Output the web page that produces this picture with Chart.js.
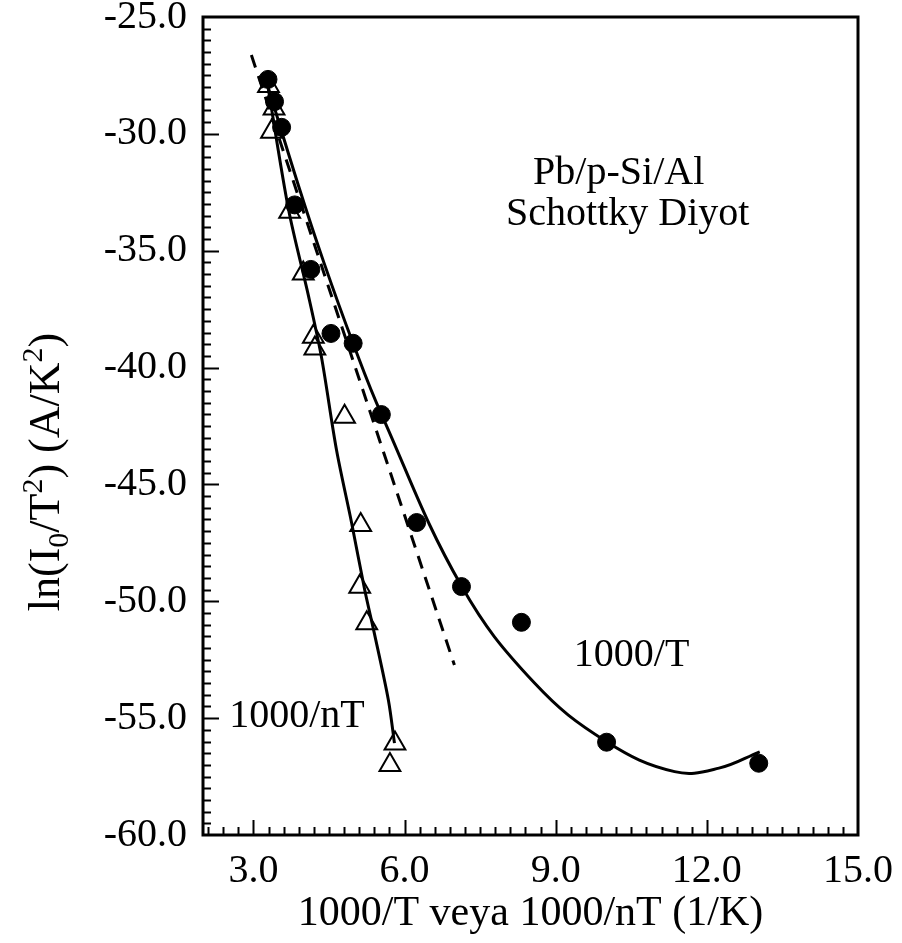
<!DOCTYPE html>
<html>
<head>
<meta charset="utf-8">
<script src="https://cdn.jsdelivr.net/npm/chart.js@4.4.0/dist/chart.umd.min.js"></script>
<style>
  html, body { margin: 0; padding: 0; background: #fff; }
  #wrap { width: 902px; height: 943px; position: relative; }
</style>
</head>
<body>
<div id="wrap"><canvas id="chart"></canvas></div>
<script>
// 1000/T data (filled circles)
const invT = [3.29, 3.42, 3.56, 3.82, 4.14, 4.54, 4.98, 5.54, 6.24, 7.13, 8.32, 10.01, 13.03];
const lnT = [-27.67, -28.62, -29.72, -33.04, -35.80, -38.54, -38.96, -42.01, -46.63, -49.37, -50.90, -56.03, -56.93];

// 1000/nT data (open triangles)
const invNT = [3.30, 3.41, 3.36, 3.72, 3.99, 4.19, 4.22, 4.81, 5.13, 5.11, 5.25, 5.81, 5.71];
const lnNT = [-27.95, -28.91, -29.91, -33.33, -35.97, -38.68, -39.18, -42.10, -46.74, -49.38, -50.94, -56.08, -57.01];

// fit through the 1000/T points
const fitTx = [3.25, 3.90, 4.40, 4.98, 5.54, 7.13, 8.58, 10.01, 11.36, 12.24, 13.05];
const fitTy = [-27.70, -32.25, -35.51, -38.97, -41.99, -49.35, -53.50, -56.01, -57.29, -57.14, -56.44];

// fit through the 1000/nT points
const fitNx = [3.28, 3.70, 4.09, 4.35, 4.65, 4.95, 5.21, 5.40, 5.68, 5.80];
const fitNy = [-27.87, -33.26, -36.90, -39.54, -43.53, -46.65, -49.52, -51.36, -54.23, -56.07];

// straight dashed line
const dashX = [2.96, 6.99];
const dashY = [-26.63, -52.73];

const xTicks = [3, 6, 9, 12, 15];
const yTicks = [-60, -55, -50, -45, -40, -35, -30, -25];

const FONT = 'Liberation Serif';
const pts = (xs, ys) => xs.map((x, i) => ({ x: x, y: ys[i] }));

// box frame + inward ticks on the left and bottom axes
const frameTicks = {
  id: 'frameTicks',
  afterDatasetsDraw(chart) {
    const { ctx, chartArea: a, scales: { x, y } } = chart;
    ctx.save();
    ctx.strokeStyle = '#000';
    ctx.lineWidth = 2;
    ctx.beginPath();
    for (let v = 2.1; v < 15; v += 0.3) {
      const px = Math.round(x.getPixelForValue(v)) + 0.5;
      const major = xTicks.some(t => Math.abs(t - v) < 1e-6);
      ctx.moveTo(px, a.bottom);
      ctx.lineTo(px, a.bottom - (major ? 15 : 8));
    }
    for (let v = -59.5; v < -25; v += 0.5) {
      const py = Math.round(y.getPixelForValue(v)) + 0.5;
      const major = yTicks.some(t => Math.abs(t - v) < 1e-6);
      ctx.moveTo(a.left, py);
      ctx.lineTo(a.left + (major ? 16 : 8), py);
    }
    ctx.stroke();
    ctx.lineWidth = 3;
    ctx.strokeRect(a.left, a.top, a.right - a.left, a.bottom - a.top);
    ctx.restore();
  }
};

// in-plot labels and the rotated y title with sub/superscripts
const labels = {
  id: 'labels',
  afterDraw(chart) {
    const { ctx, scales: { x, y } } = chart;
    ctx.save();
    ctx.fillStyle = '#000';
    ctx.textBaseline = 'middle';
    ctx.font = `40px "${FONT}"`;
    ctx.textAlign = 'center';
    ctx.fillText('Pb/p-Si/Al', x.getPixelForValue(10.25), y.getPixelForValue(-31.68));
    ctx.fillText('Schottky Diyot', x.getPixelForValue(10.43), y.getPixelForValue(-33.47));
    ctx.textAlign = 'left';
    ctx.fillText('1000/T', x.getPixelForValue(9.36), y.getPixelForValue(-52.30));
    ctx.fillText('1000/nT', x.getPixelForValue(2.52), y.getPixelForValue(-54.91));

    const parts = [
      ['ln(I', 0], ['0', 1], ['/T', 0], ['2', -1], [') (A/K', 0], ['2', -1], [')', 0]
    ];
    const big = `44px "${FONT}"`, small = `30px "${FONT}"`;
    let total = 0;
    parts.forEach(p => { ctx.font = p[1] ? small : big; total += ctx.measureText(p[0]).width; });
    ctx.translate(45, 472);
    ctx.rotate(-Math.PI / 2);
    ctx.textBaseline = 'alphabetic';
    let cx = -total / 2;
    parts.forEach(p => {
      ctx.font = p[1] ? small : big;
      ctx.fillText(p[0], cx, 14 + (p[1] === 1 ? 9 : p[1] === -1 ? -17 : 0));
      cx += ctx.measureText(p[0]).width;
    });
    ctx.restore();
  }
};

new Chart(document.getElementById('chart'), {
  type: 'scatter',
  data: {
    datasets: [
      {
        data: pts(dashX, dashY), showLine: true, borderColor: '#000', borderWidth: 3,
        borderDash: [13, 9], pointRadius: 0
      },
      {
        data: pts(fitTx, fitTy), showLine: true, borderColor: '#000', borderWidth: 3,
        tension: 0.4, pointRadius: 0
      },
      {
        data: pts(fitNx, fitNy), showLine: true, borderColor: '#000', borderWidth: 3,
        tension: 0.3, pointRadius: 0
      },
      {
        data: pts(invT, lnT), pointStyle: 'circle', pointRadius: 9,
        backgroundColor: '#000', borderColor: '#000', borderWidth: 1
      },
      {
        data: pts(invNT, lnNT), pointStyle: 'triangle', pointRadius: 12,
        backgroundColor: 'rgba(0,0,0,0)', borderColor: '#000', borderWidth: 2
      }
    ]
  },
  options: {
    responsive: true,
    maintainAspectRatio: false,
    animation: false,
    layout: { padding: { top: 17, right: 44, bottom: 0, left: 0 } },
    plugins: { legend: { display: false }, tooltip: { enabled: false } },
    scales: {
      x: {
        type: 'linear', min: 2, max: 15,
        grid: { display: false, drawTicks: false },
        border: { display: false },
        afterBuildTicks: s => { s.ticks = xTicks.map(v => ({ value: v })); },
        afterFit: s => { s.height = 108; s.paddingLeft = 0; s.paddingRight = 0; },
        ticks: {
          color: '#000', padding: 12, maxRotation: 0, autoSkip: false,
          font: { family: FONT, size: 40 },
          callback: v => v.toFixed(1)
        },
        title: {
          display: true, text: '1000/T veya 1000/nT (1/K)', color: '#000',
          font: { family: FONT, size: 42 }, padding: { top: 0, bottom: 4 }
        }
      },
      y: {
        type: 'linear', min: -60, max: -25,
        grid: { display: false, drawTicks: false },
        border: { display: false },
        afterBuildTicks: s => { s.ticks = yTicks.map(v => ({ value: v })); },
        afterFit: s => { s.width = 203; s.paddingTop = 0; s.paddingBottom = 0; },
        ticks: {
          color: '#000', padding: 16, autoSkip: false,
          font: { family: FONT, size: 40 },
          callback: v => v.toFixed(1)
        }
      }
    }
  },
  plugins: [frameTicks, labels]
});
</script>
</body>
</html>
